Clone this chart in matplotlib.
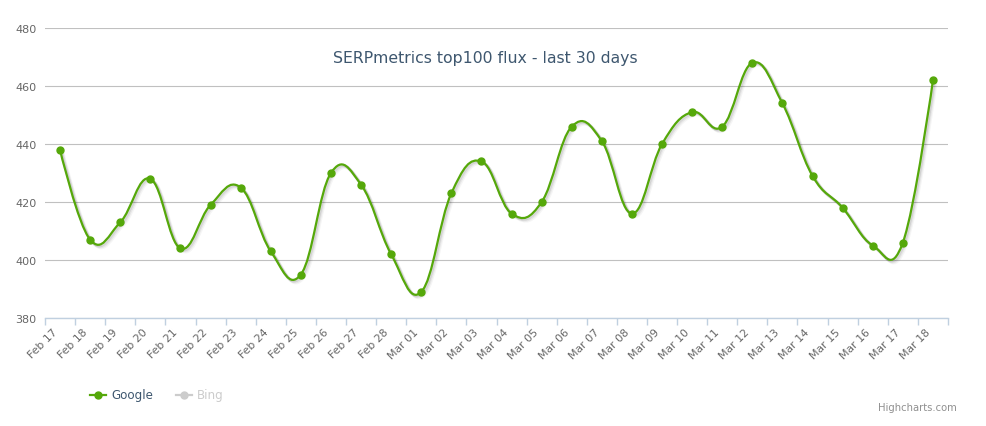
import matplotlib
matplotlib.use("Agg")
import matplotlib.pyplot as plt
from matplotlib.path import Path
from matplotlib.patches import PathPatch
import matplotlib.transforms as mtransforms
import numpy as np

categories = ["Feb 17", "Feb 18", "Feb 19", "Feb 20", "Feb 21", "Feb 22", "Feb 23", "Feb 24",
              "Feb 25", "Feb 26", "Feb 27", "Feb 28", "Mar 01", "Mar 02", "Mar 03", "Mar 04",
              "Mar 05", "Mar 06", "Mar 07", "Mar 08", "Mar 09", "Mar 10", "Mar 11", "Mar 12",
              "Mar 13", "Mar 14", "Mar 15", "Mar 16", "Mar 17", "Mar 18"]
google = [438, 407, 413, 428, 404, 419, 425, 403, 395, 430, 426, 402, 389, 423, 434, 416,
          420, 446, 441, 416, 440, 451, 446, 468, 454, 429, 418, 405, 406, 462]
y_ticks = [380, 400, 420, 440, 460, 480]
title = "SERPmetrics top100 flux - last 30 days"

GREEN = "#55A80A"
W, H = 986, 427
fig = plt.figure(figsize=(W / 100, H / 100), dpi=100)
ax = fig.add_axes([45 / W, 1 - 319 / H, (948 - 45) / W, (319 - 29) / H])

x = np.arange(len(google), dtype=float)
y = np.array(google, dtype=float)


def spline_path(xs, ys, smoothing=1.5):
    n = len(xs)
    left = [None] * n
    right = [None] * n
    denom = smoothing + 1
    for i in range(1, n - 1):
        px, py = xs[i], ys[i]
        lx, ly = xs[i - 1], ys[i - 1]
        nx, ny = xs[i + 1], ys[i + 1]
        lcx = (smoothing * px + lx) / denom
        lcy = (smoothing * py + ly) / denom
        rcx = (smoothing * px + nx) / denom
        rcy = (smoothing * py + ny) / denom
        if rcx != lcx:
            corr = ((rcy - lcy) * (rcx - px)) / (rcx - lcx) + py - rcy
            lcy += corr
            rcy += corr
        left[i] = (lcx, lcy)
        right[i] = (rcx, rcy)
    verts = [(xs[0], ys[0])]
    codes = [Path.MOVETO]
    for i in range(1, n):
        c1 = right[i - 1] if right[i - 1] is not None else (xs[i - 1], ys[i - 1])
        c2 = left[i] if left[i] is not None else (xs[i], ys[i])
        verts += [c1, c2, (xs[i], ys[i])]
        codes += [Path.CURVE4] * 3
    return Path(verts, codes)


path = spline_path(x, y)
# shadow
for off, a in [(1.0, 0.10), (2.0, 0.06), (3.0, 0.04)]:
    tr = ax.transData + mtransforms.ScaledTranslation(off / 100, -off / 100, fig.dpi_scale_trans)
    ax.add_patch(PathPatch(path, facecolor="none", edgecolor="black", lw=2.2, alpha=a,
                           transform=tr, zorder=2))
ax.add_patch(PathPatch(path, facecolor="none", edgecolor=GREEN, lw=1.6, zorder=3,
                       capstyle="round", joinstyle="round"))
ax.plot(x, y, linestyle="none", marker="o", markersize=5, color=GREEN, zorder=4)

ax.set_xlim(-0.5, len(google) - 0.5)
ax.set_ylim(380, 480)
ax.set_yticks(y_ticks)
ax.set_yticklabels([str(v) for v in y_ticks], color="#666666", fontsize=8)
ax.tick_params(axis="y", length=0, pad=6)
ax.yaxis.grid(True, color="#C0C0C0", lw=0.8)
ax.set_axisbelow(True)

ax.set_xticks(x)
ax.set_xticklabels(categories, rotation=45, ha="right", rotation_mode="anchor",
                   color="#666666", fontsize=7.8)
ax.tick_params(axis="x", length=0, pad=6)
ax.set_xticks(np.arange(len(google) + 1) - 0.5, minor=True)
ax.tick_params(axis="x", which="minor", length=5, color="#C0D0E0", width=1)
shift = mtransforms.ScaledTranslation(-8 / 100, 0, fig.dpi_scale_trans)
for lab in ax.get_xticklabels():
    lab.set_transform(lab.get_transform() + shift)

for s in ["top", "right", "left"]:
    ax.spines[s].set_visible(False)
ax.spines["bottom"].set_color("#C0D0E0")
ax.spines["bottom"].set_linewidth(1)

fig.text(485 / W, 1 - 59 / H, title, ha="center", va="center", color="#3E576F", fontsize=11.3)

# legend
ly = 1 - 396 / H
fig.add_artist(plt.Line2D([90 / W, 106 / W], [ly, ly], color=GREEN, lw=1.6))
fig.add_artist(plt.Line2D([98 / W], [ly], marker="o", markersize=5, color=GREEN))
fig.text(111 / W, ly, "Google", ha="left", va="center", color="#3E576F", fontsize=8.6)
fig.add_artist(plt.Line2D([176 / W, 192 / W], [ly, ly], color="#CCCCCC", lw=1.6))
fig.add_artist(plt.Line2D([184 / W], [ly], marker="o", markersize=5, color="#CCCCCC"))
fig.text(197 / W, ly, "Bing", ha="left", va="center", color="#CCCCCC", fontsize=8.6)

fig.text(957 / W, 1 - 408 / H, "Highcharts.com", ha="right", va="center", color="#909090",
         fontsize=7.2)

fig.savefig("out.png", dpi=100, facecolor="white")
